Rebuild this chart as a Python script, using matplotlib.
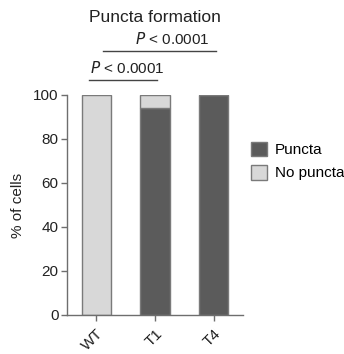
import matplotlib
matplotlib.use("Agg")
import matplotlib.pyplot as plt

categories = ["WT", "T1", "T4"]
puncta = [0, 94, 100]
no_puncta = [100, 6, 0]
yticks = [0, 20, 40, 60, 80, 100]

plt.rcParams['font.family'] = ['Liberation Sans', 'DejaVu Sans']
fig = plt.figure(figsize=(3.44, 3.54), dpi=100)
ax = fig.add_axes([67/344, 1-315/354, 176/344, 220/354])

dark = '#5b5b5b'
light = '#d8d8d8'
edge = '#7a7a7a'
fs = 11
x = list(range(len(categories)))
ax.bar(x, puncta, width=0.5, color=dark, edgecolor=edge, linewidth=1, label='Puncta')
ax.bar(x, no_puncta, bottom=puncta, width=0.5, color=light, edgecolor=edge, linewidth=1, label='No puncta')

ax.set_xlim(-0.5, 2.5)
ax.set_ylim(0, 100)
ax.set_yticks(yticks)
ax.set_xticks(x)
ax.set_xticklabels(categories, rotation=45, ha='right', rotation_mode='anchor')
for s in ['top', 'right']:
    ax.spines[s].set_visible(False)
for s in ['left', 'bottom']:
    ax.spines[s].set_color('#6e6e6e')
    ax.spines[s].set_linewidth(1)
ax.tick_params(colors='#6e6e6e', labelcolor='#222222', labelsize=fs, length=4, width=1, pad=2)
ax.tick_params(axis='x', pad=4)
ax.set_ylabel('% of cells', fontsize=fs, color='#222222', labelpad=6)

# significance bars
ax.plot([0.11, 2.04], [120, 120], color='#444444', lw=1, clip_on=False)
ax.text(1.30, 122, r'$\it{P}$ < 0.0001', ha='center', va='bottom', fontsize=fs, color='#222222', clip_on=False)
ax.plot([-0.13, 1.03], [107, 107], color='#444444', lw=1, clip_on=False)
ax.text(0.53, 108.5, r'$\it{P}$ < 0.0001', ha='center', va='bottom', fontsize=fs, color='#222222', clip_on=False)

fig.text(155/344, 1-17/354, 'Puncta formation', ha='center', va='center', fontsize=12.5, color='#222222')

leg = ax.legend(loc='upper left', bbox_to_anchor=(0.965, 0.85), frameon=False, fontsize=fs,
                handlelength=1.1, handleheight=1.1, handletextpad=0.5, labelspacing=0.5)
fig.savefig('out.png', dpi=100)
